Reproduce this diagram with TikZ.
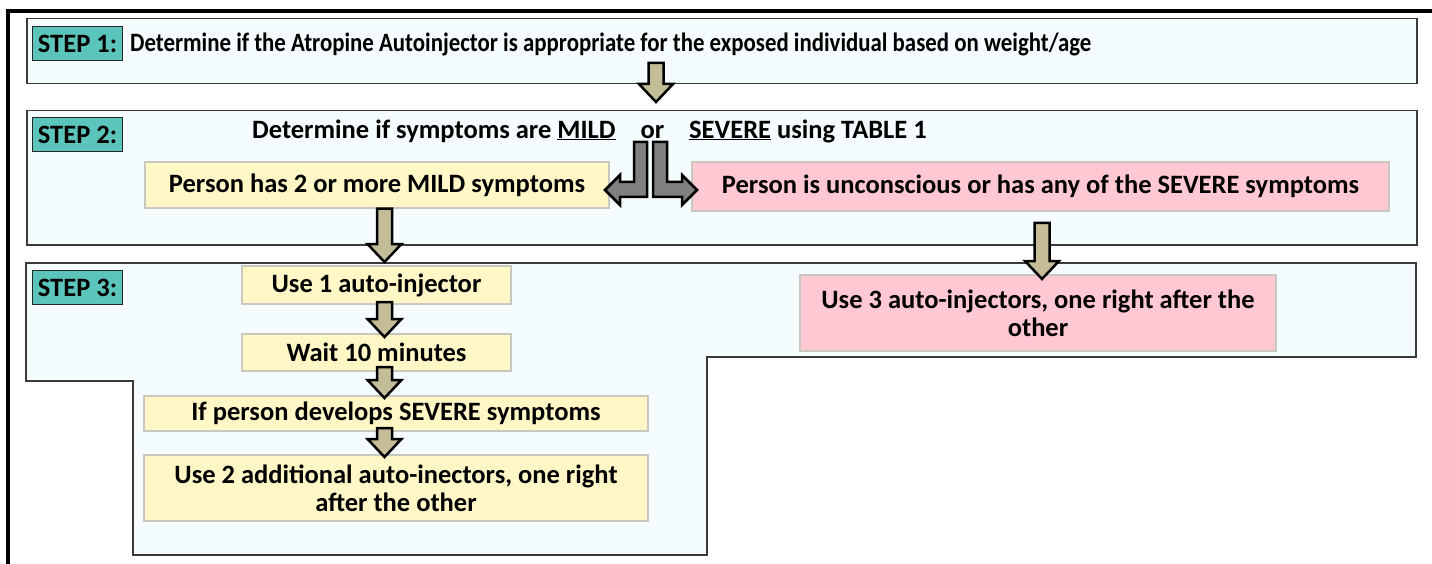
\documentclass[tikz,border=0pt]{standalone}
\usepackage{fontspec}
\setmainfont{Carlito}
\usetikzlibrary{calc}
\definecolor{panelc}{HTML}{F5FCFE}
\definecolor{stepteal}{HTML}{5BC5BB}
\definecolor{mildy}{HTML}{FFF8C6}
\definecolor{sevp}{HTML}{FFC8D2}
\definecolor{khakic}{HTML}{C4BD97}
\definecolor{gshaft}{HTML}{808080}
\definecolor{pborder}{HTML}{3A3A3A}
\definecolor{bborder}{HTML}{C8C8BE}
\newcommand\fs{\fontsize{26.5}{28}\selectfont\bfseries}
\newcommand\varrow[2]{%
  \draw[blockarrow] let \p1=(#1), \p2=(#2) in
   (\x1-7.5pt,\y1) -- (\x1+7.5pt,\y1) -- (\x1+7.5pt,\y2+18pt) -- (\x1+17pt,\y2+18pt)
   -- (\x1,\y2) -- (\x1-17pt,\y2+18pt) -- (\x1-7.5pt,\y2+18pt) -- cycle;}
\tikzset{
  panelbox/.style={draw=pborder, line width=1.5pt, fill=panelc, inner sep=0pt},
  steplabel/.style={draw=black!85, fill=stepteal, line width=1pt, minimum width=90pt,
     minimum height=34pt, inner sep=0pt, font=\fs, anchor=north west},
  ybox/.style={fill=mildy, draw=bborder, line width=1.5pt, inner sep=0pt, align=center, font=\fs},
  pbox/.style={fill=sevp, draw=bborder, line width=1.5pt, inner sep=0pt, align=center, font=\fs},
  blockarrow/.style={draw=black, line width=2.5pt, fill=khakic, line join=miter},
  bentarrow/.style={draw=black, line width=2.5pt, fill=gshaft, line join=miter},
  plaintext/.style={font=\fs, inner sep=0pt, anchor=west}
}
\begin{document}
\begin{tikzpicture}[x=1pt,y=-1pt]
\useasboundingbox[fill=white] (0,0) rectangle (1432,564);
% outer frame
\draw[line width=4pt] (8,570) -- (8,11) -- (1440,11);
% step 1
\node[panelbox, minimum width=1390pt, minimum height=65pt, anchor=north west] (p1) at (26,18) {};
\node[steplabel] (s1) at (32,26) {STEP 1:};
\node[plaintext] (t1) at (130,44) {\scalebox{0.862}[1]{Determine if the Atropine Autoinjector is appropriate for the exposed individual based on weight/age}};
% step 2
\node[panelbox, minimum width=1390pt, minimum height=134pt, anchor=north west] (p2) at (26,110) {};
\node[steplabel] (s2) at (32,117) {STEP 2:};
\node[plaintext] (t2) at (252,131) {Determine if symptoms are \underline{MILD}\hspace{25pt}or\hspace{25pt}\underline{SEVERE} using TABLE 1};
\node[ybox, minimum width=464pt, minimum height=46pt] (mild) at (377,185) {Person has 2 or more MILD symptoms};
\node[pbox, minimum width=697pt, minimum height=49pt] (severe) at (1040.5,186.5) {Person is unconscious or has any of the SEVERE symptoms};
% step 3
\draw[panelbox] (26,263) -- (1416,263) -- (1416,357) -- (707,357) -- (707,555)
  -- (133,555) -- (133,381) -- (26,381) -- cycle;
\node[steplabel] (s3) at (32,270) {STEP 3:};
\node[ybox, minimum width=269pt, minimum height=38pt] (use1) at (376.5,285) {Use 1 auto-injector};
\node[ybox, minimum width=269pt, minimum height=37pt] (wait) at (376.5,352.5) {Wait 10 minutes};
\node[ybox, minimum width=504pt, minimum height=35pt] (ifsev) at (396,413.5) {If person develops SEVERE symptoms};
\node[ybox, minimum width=504pt, minimum height=66pt] (use2) at (396,488) {Use 2 additional auto-inectors, one right\\after the other};
\node[pbox, minimum width=476pt, minimum height=76pt] (use3) at (1038,313) {Use 3 auto-injectors, one right after the\\other};
% arrow anchor points
\coordinate (a1s) at (656,63);   \coordinate (a1e) at (656,102);
\coordinate (a2s) at (mild.south -| 384.5,0); \coordinate (a2e) at (384.5,262);
\coordinate (a3s) at (1042,223); \coordinate (a3e) at (1042,279);
\coordinate (a4s) at (384.5,302); \coordinate (a4e) at (384.5,337);
\coordinate (a5s) at (384.5,367); \coordinate (a5e) at (384.5,398);
\coordinate (a6s) at (384.5,428); \coordinate (a6e) at (384.5,457);
\varrow{a1s}{a1e}
\varrow{a2s}{a2e}
\varrow{a3s}{a3e}
\varrow{a4s}{a4e}
\varrow{a5s}{a5e}
\varrow{a6s}{a6e}
% bent arrows
\draw[bentarrow] (647,142) -- (647,197) -- (620,197) -- (620,205) -- (605,190)
  -- (620,175) -- (620,182) -- (634,182) -- (634,142) -- cycle;
\draw[bentarrow] (653,142) -- (653,197) -- (682,197) -- (682,205) -- (697,190)
  -- (682,175) -- (682,182) -- (667,182) -- (667,142) -- cycle;
\end{tikzpicture}
\end{document}
